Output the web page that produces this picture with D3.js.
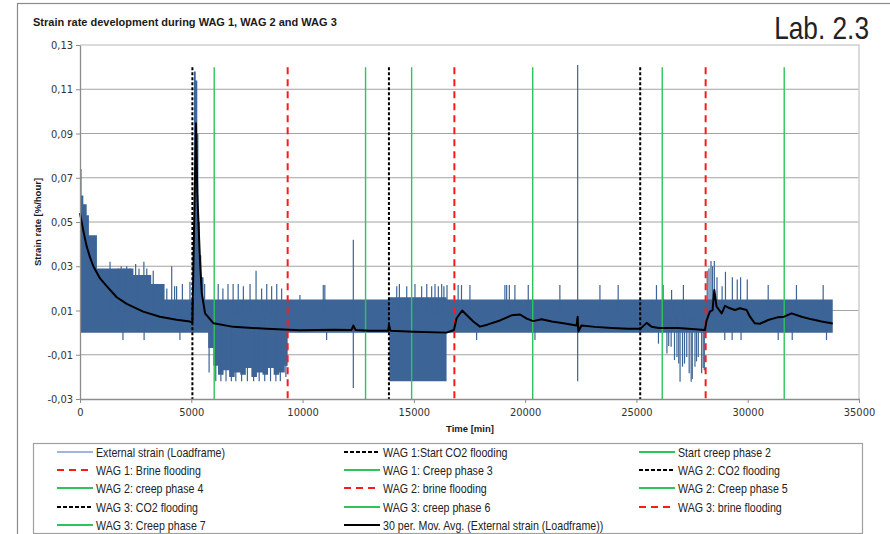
<!DOCTYPE html>
<html>
<head>
<meta charset="utf-8">
<script src="https://cdn.jsdelivr.net/npm/d3@7"></script>
<style>
  body { margin: 0; background: #fff; }
  svg { display: block; }
  text { font-family: "Liberation Sans Narrow", "Arial Narrow", "DejaVu Sans Condensed", sans-serif; }
</style>
</head>
<body>
<script>
// ---- data ----
const xTicks = [0, 5000, 10000, 15000, 20000, 25000, 30000, 35000];
const yTicks = [-0.03, -0.01, 0.01, 0.03, 0.05, 0.07, 0.09, 0.11, 0.13];

// external strain: envelope of the dense signal (min / max per step)
const bandTime = [0, 70, 150, 300, 400, 760, 2400, 3200, 3800, 5000, 5120, 5200, 5270, 5320, 5380, 5450, 5550,
  5760, 5990, 6200, 6450, 6700, 6950, 7200, 7450, 7700, 7950, 8200, 8450, 8700, 8950, 9200, 9330,
  13900, 16470, 33820];
const bandHigh = [0.074, 0.062, 0.058, 0.053, 0.044, 0.029, 0.026, 0.022, 0.015, 0.015, 0.118, 0.114, 0.09, 0.05, 0.035, 0.025, 0.015,
  0.015, 0.015, 0.015, 0.015, 0.015, 0.015, 0.015, 0.015, 0.015, 0.015, 0.015, 0.015, 0.015, 0.015, 0.015, 0.015,
  0.016, 0.015, 0.015];
const bandLow = [0, 0, 0, 0, 0, 0, 0, 0, 0, 0, 0, 0, 0, 0, 0, 0, 0,
  -0.007, -0.015, -0.019, -0.017, -0.020, -0.018, -0.019, -0.016, -0.020, -0.018, -0.019, -0.016, -0.019, -0.018, -0.015, 0,
  -0.022, 0, 0];

// external strain: isolated spikes sticking out of the envelope
const spikeTime = [1350, 1720, 1850, 1980, 2100, 2250, 2500, 2650, 2870, 3000, 3290, 3450, 3700, 3900, 4120, 4250, 4340, 4600, 4940,
  1930, 2880, 4490,
  5600, 6210, 6420, 6650, 6880, 7110, 7340, 7640, 7910, 8160, 8390, 8610, 8840, 9060,
  5800, 6100, 6330, 6560, 6800, 7000, 7260, 7520, 7800, 8050, 8300, 8560, 8800, 9000, 9250,
  9880, 10930, 11000, 11080, 12280, 12280,
  14230, 14350, 14680, 15050, 15350, 15580, 15800, 15950, 16100, 16250, 16350,
  16490, 16990, 17140, 17520, 19090, 19170, 19290, 19540, 20140, 21560, 22360, 22360, 23360, 24180, 25900, 26200, 26580, 27110,
  17820, 20440, 28970, 29300, 29700, 31370, 32000, 33540,
  25990, 26370, 26450, 26560, 26710, 26820, 26900, 26960, 27070, 27160, 27260, 27370, 27460, 27510, 27630, 27700, 27780, 27930, 28000, 28050,
  28180, 28260, 28350, 28420, 28500, 28620, 28850, 29000, 29310, 29530, 29680, 29980, 30920, 32190, 33390];
const spikeValue = [0.032, 0.029, 0.030, 0.029, 0.030, 0.029, 0.031, 0.029, 0.032, 0.029, 0.028, 0.022, 0.021, 0.020, 0.030, 0.021, 0.021, 0.022, 0.023,
  -0.0033, -0.0033, -0.0033,
  0.022, 0.022, 0.020, 0.022, 0.022, 0.022, 0.021, 0.022, 0.028, 0.020, 0.022, 0.021, 0.022, 0.020,
  -0.018, -0.022, -0.022, -0.022, -0.022, -0.022, -0.022, -0.022, -0.022, -0.022, -0.022, -0.022, -0.022, -0.022, -0.02,
  0.017, 0.0215, 0.0215, -0.0033, 0.042, -0.025,
  0.021, 0.022, 0.021, 0.022, 0.021, 0.022, 0.021, 0.022, 0.021, 0.022, 0.021,
  0.0215, 0.0215, 0.0215, 0.0215, 0.0215, 0.0215, 0.0215, 0.0215, 0.0215, 0.0215, 0.121, -0.022, 0.0215, 0.0215, 0.0215, 0.0215, 0.0193, 0.0215,
  -0.0033, -0.0033, -0.0033, -0.0033, -0.0033, -0.0033, -0.0033, -0.0033,
  -0.005, -0.0094, -0.006, -0.0064, -0.0124, -0.011, -0.014, -0.0222, -0.0154, -0.014, -0.011, -0.0184, -0.0222, -0.021, -0.0154, -0.013, -0.011, -0.0184, -0.016, -0.017,
  0.028, 0.029, 0.0324, 0.030, 0.0324, 0.025, 0.021, 0.0275, 0.025, 0.024, 0.025, 0.024, 0.0215, 0.0215, 0.0215];

// 30 per. moving average
const avgTime = [0, 150, 300, 450, 600, 900, 1200, 1650, 2100, 2840, 3590, 4340, 4940, 5050, 5130, 5210, 5270, 5390, 5470, 5620,
  6000, 6890, 8390, 9880, 11400, 12200, 12280, 12380, 13000, 13850, 13880, 13950, 15000, 16470, 16800, 16920, 17170, 17370,
  17670, 17970, 18300, 18870, 19390, 19770, 20070, 20360, 20740, 21200, 21790, 22310, 22360, 22390, 22530, 23140, 23890,
  24630, 25170, 25460, 25680, 26000, 26880, 28080, 28150, 28300, 28420, 28500, 28600, 28830, 28980, 29200, 29430, 29650,
  29950, 30100, 30320, 30550, 30920, 31370, 31640, 31970, 32420, 32870, 33320, 33820];
const avgValue = [0.054, 0.046, 0.039, 0.034, 0.030, 0.0245, 0.021, 0.016, 0.013, 0.0095, 0.0072, 0.0058, 0.0050, 0.0045, 0.050, 0.0946, 0.063, 0.033, 0.018, 0.0087,
  0.0042, 0.0026, 0.0017, 0.0011, 0.0013, 0.0012, 0.0032, 0.0012, 0.0008, 0.0008, 0.0036, 0.0008, 0.0004, 0.0000, 0.0012, 0.0065, 0.0100, 0.0080,
  0.0050, 0.0027, 0.0036, 0.0055, 0.0078, 0.0082, 0.0063, 0.0052, 0.0060, 0.0050, 0.0041, 0.0032, 0.0072, 0.0005, 0.0032, 0.0026, 0.0021,
  0.0017, 0.0017, 0.0044, 0.0027, 0.0021, 0.0021, 0.0012, 0.0054, 0.0095, 0.0102, 0.0193, 0.0118, 0.0087, 0.0121, 0.0110, 0.0102, 0.0110,
  0.0102, 0.0072, 0.0042, 0.0040, 0.0057, 0.0070, 0.0072, 0.0087, 0.0072, 0.0060, 0.0050, 0.0041];

// event markers
const markerNames = ["WAG 1:Start CO2 flooding", "Start creep phase 2", "WAG 1: Brine flooding", "WAG 1: Creep phase 3",
  "WAG 2: CO2 flooding", "WAG 2: creep phase 4", "WAG 2: brine flooding", "WAG 2: Creep phase 5",
  "WAG 3: CO2 flooding", "WAG 3: creep phase 6", "WAG 3: brine flooding", "WAG 3: Creep phase 7"];
const markerTimes = [5050, 6030, 9330, 12830, 13880, 14900, 16820, 20340, 25170, 26160, 28110, 31640];
const markerKinds = ["co2", "creep", "brine", "creep", "co2", "creep", "brine", "creep", "co2", "creep", "brine", "creep"];
const markerTop = 0.12;

const styles = {
  strain: { stroke: "#3d6496", dash: null, width: 1.5 },
  co2: { stroke: "#000", dash: "3,2", width: 2 },
  brine: { stroke: "#ff1a1a", dash: "7,5", width: 2 },
  creep: { stroke: "#2fc35c", dash: null, width: 1.4 },
  avg: { stroke: "#000", dash: null, width: 2 }
};

const w = 890, h = 534;
const plot = { left: 80, right: 859, top: 45, bottom: 399 };
const narrow = 0.82; // Arial Narrow ~ Arial squeezed horizontally
const arial = "'Liberation Sans', Arial, sans-serif";

const svg = d3.select("body").append("svg").attr("width", w).attr("height", h);

// outer chart frame
svg.append("rect").attr("x", 17.5).attr("y", 3.5).attr("width", 900).attr("height", 600)
  .attr("fill", "none").attr("stroke", "#8a8a8a").attr("stroke-width", 1.2);

svg.append("text").attr("x", 33).attr("y", 26)
  .style("font-family", arial)
  .style("font-weight", "bold").style("font-size", "11px").attr("fill", "#1a1a1a")
  .text("Strain rate development during WAG 1, WAG 2 and WAG 3");

svg.append("text").attr("transform", `translate(869,39) scale(${narrow},1)`).attr("text-anchor", "end")
  .style("font-family", arial).style("font-size", "32px").attr("fill", "#222").text("Lab. 2.3");

const x = d3.scaleLinear().domain([0, 35000]).range([plot.left, plot.right]);
const y = d3.scaleLinear().domain([-0.03, 0.13]).range([plot.bottom, plot.top]);

// grid
svg.append("g").selectAll("line").data(yTicks.slice(1, -1)).enter().append("line")
  .attr("x1", plot.left).attr("x2", plot.right)
  .attr("y1", d => y(d)).attr("y2", d => y(d))
  .attr("stroke", "#a3a3a3").attr("stroke-width", 1.2);

// plot frame (top / right)
svg.append("path")
  .attr("d", `M${plot.left},${y(0.13)}H${plot.right}V${plot.bottom}`)
  .attr("fill", "none").attr("stroke", "#cfcfcf").attr("stroke-width", 1.5);

// external strain
svg.append("path")
  .datum(bandTime.map((t, i) => ({ t: t, hi: bandHigh[i], lo: bandLow[i] })))
  .attr("d", d3.area().curve(d3.curveStepAfter).x(d => x(d.t)).y0(d => y(d.lo)).y1(d => y(d.hi)))
  .attr("fill", styles.strain.stroke);

svg.append("g").selectAll("line").data(spikeTime.map((t, i) => ({ t: t, v: spikeValue[i] })))
  .enter().append("line")
  .attr("x1", d => x(d.t)).attr("x2", d => x(d.t))
  .attr("y1", y(0.0075)).attr("y2", d => y(d.v))
  .attr("stroke", styles.strain.stroke).attr("stroke-width", 1.2);

// markers
svg.append("g").selectAll("line").data(markerTimes.map((t, i) => ({ t: t, k: markerKinds[i] })))
  .enter().append("line")
  .attr("x1", d => x(d.t)).attr("x2", d => x(d.t))
  .attr("y1", y(markerTop)).attr("y2", y(-0.03))
  .attr("stroke", d => styles[d.k].stroke)
  .attr("stroke-width", d => styles[d.k].width)
  .attr("stroke-dasharray", d => styles[d.k].dash);

// moving average
svg.append("path")
  .datum(avgTime.map((t, i) => [t, avgValue[i]]))
  .attr("d", d3.line().x(d => x(d[0])).y(d => y(d[1])))
  .attr("fill", "none").attr("stroke", "#000").attr("stroke-width", 2).attr("stroke-linejoin", "round");

// axes
const fmtY = v => v.toFixed(2).replace(".", ",");
const xAxis = svg.append("g").attr("transform", `translate(0,${plot.bottom})`)
  .call(d3.axisBottom(x).tickValues(xTicks).tickFormat(d3.format("d")).tickSize(4).tickSizeOuter(0));
const yAxis = svg.append("g").attr("transform", `translate(${plot.left},0)`)
  .call(d3.axisLeft(y).tickValues(yTicks).tickFormat(fmtY).tickSize(4).tickSizeOuter(0));
[xAxis, yAxis].forEach(a => {
  a.select(".domain").attr("stroke", "#8c8c8c").attr("stroke-width", 1.3);
  a.selectAll(".tick line").attr("stroke", "#8c8c8c");
  a.selectAll(".tick text").attr("fill", "#333").style("font-size", "11px");
});
xAxis.selectAll(".tick text").attr("dy", "0.95em");
yAxis.selectAll(".tick text").attr("x", -7);

svg.append("text").attr("x", 470).attr("y", 432).attr("text-anchor", "middle")
  .style("font-family", arial)
  .style("font-weight", "bold").style("font-size", "9.5px").attr("fill", "#1a1a1a").text("Time [min]");
svg.append("text").attr("transform", "translate(41,222) rotate(-90)").attr("text-anchor", "middle")
  .style("font-family", arial)
  .style("font-weight", "bold").style("font-size", "9.5px").attr("fill", "#1a1a1a").text("Strain rate [%/hour]");

// legend
const legendItems = [{ name: "External strain (Loadframe)", k: "strain" }]
  .concat(markerNames.map((n, i) => ({ name: n, k: markerKinds[i] })))
  .concat([{ name: "30 per. Mov. Avg. (External strain (Loadframe))", k: "avg" }]);
const colX = [57, 344, 639];
const rowY = [452, 470, 488, 507, 525];

svg.append("rect").attr("x", 33.5).attr("y", 443.5).attr("width", 829).attr("height", 90)
  .attr("fill", "#fff").attr("stroke", "#a0a0a0").attr("stroke-width", 1.2);

const legend = svg.append("g").selectAll("g").data(legendItems).enter().append("g")
  .attr("transform", (d, i) => `translate(${colX[i % 3]},${rowY[Math.floor(i / 3)]})`);
legend.append("line").attr("x1", 0).attr("x2", 36).attr("y1", 0).attr("y2", 0)
  .attr("stroke", d => d.k === "strain" ? "#7f9ccc" : styles[d.k].stroke)
  .attr("stroke-width", d => d.k === "strain" ? 1.5 : 2)
  .attr("stroke-dasharray", d => d.k === "co2" ? "4,2" : styles[d.k].dash);
legend.append("text").attr("transform", `translate(39,4.5) scale(${narrow},1)`)
  .style("font-family", arial).style("font-size", "13px").attr("fill", "#222").text(d => d.name);
</script>
</body>
</html>
